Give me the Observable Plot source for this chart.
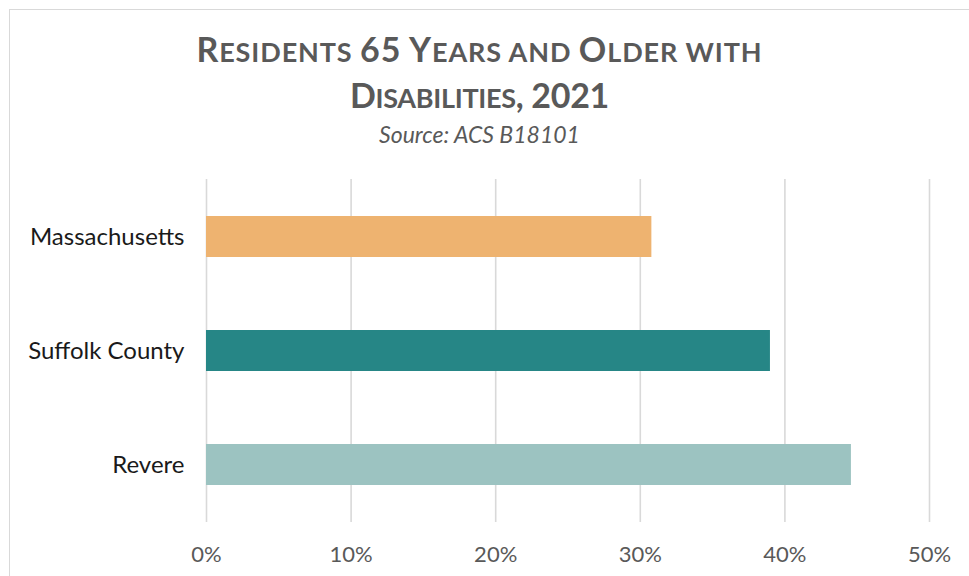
<!DOCTYPE html>
<html>
<head>
<meta charset="utf-8">
<script src="https://cdn.jsdelivr.net/npm/d3@7"></script>
<script src="https://cdn.jsdelivr.net/npm/@observablehq/plot@0.6"></script>
<style>
  body { margin: 0; background: #fff; font-family: Lato, sans-serif; }
  #wrap { position: relative; width: 969px; height: 576px; overflow: hidden; }
  #frame { position: absolute; left: 9px; top: 9px; width: 1000px; height: 600px; border: 1.5px solid #d9d9d9; box-sizing: border-box; }
  .t { position: absolute; left: 0; width: 959px; text-align: center; color: #595959; font-family: Lato, sans-serif; font-weight: 700; line-height: 46px; letter-spacing: 0.9px; white-space: nowrap; }
  .t .b { font-size: 34px; }
  .t .s { font-size: 27px; }
  #t1 { top: 26px; }
  #t2 { top: 72px; letter-spacing: -0.3px; }
  #sub { position: absolute; left: 0; width: 959px; top: 120px; text-align: center; color: #595959; font-style: italic; font-weight: 400; font-size: 23px; line-height: 28px; font-family: Lato, sans-serif; }
  #chart { position: absolute; left: 0; top: 0; }
</style>
</head>
<body>
<div id="wrap">
  <div id="frame"></div>
  <div id="chart"></div>
  <div class="t" id="t1"><span class="b">R</span><span class="s">ESIDENTS </span><span class="b">65 Y</span><span class="s">EARS AND </span><span class="b">O</span><span class="s">LDER WITH</span></div>
  <div class="t" id="t2"><span class="b">D</span><span class="s">ISABILITIES</span><span class="b">, 2021</span></div>
  <div id="sub">Source: ACS B18101</div>
</div>
<script>
const categories = ["Massachusetts", "Suffolk County", "Revere"];
const values = [30.8, 39.0, 44.6];
const colors = ["#EEB370", "#268686", "#9CC3C1"];
const xTicks = [0, 10, 20, 30, 40, 50];

const data = categories.map((c, i) => ({category: c, value: values[i]}));

const chart = Plot.plot({
  width: 969,
  height: 576,
  marginLeft: 206,
  marginRight: 40,
  marginTop: 179,
  marginBottom: 54,
  style: {fontFamily: "Lato, sans-serif", background: "transparent", overflow: "visible"},
  x: {domain: [0, 50], ticks: xTicks, tickFormat: d => d + "%", label: null, grid: false},
  y: {domain: categories, label: null, paddingInner: 0.64, paddingOuter: 0.32},
  color: {domain: categories, range: colors},
  marks: [
    Plot.gridX(xTicks, {stroke: "#d9d9d9", strokeOpacity: 1, strokeWidth: 1.6}),
    Plot.barX(data, {x: "value", y: "category", fill: "category"}),
    Plot.axisX(xTicks, {tickSize: 0, tickPadding: 24, fontSize: 22, fill: "#595959", tickFormat: d => d + "%", label: null}),
    Plot.axisY({tickSize: 0, tickPadding: 22, fontSize: 24, fill: "#1a1a1a", label: null})
  ]
});
document.getElementById("chart").appendChild(chart);
</script>
</body>
</html>
